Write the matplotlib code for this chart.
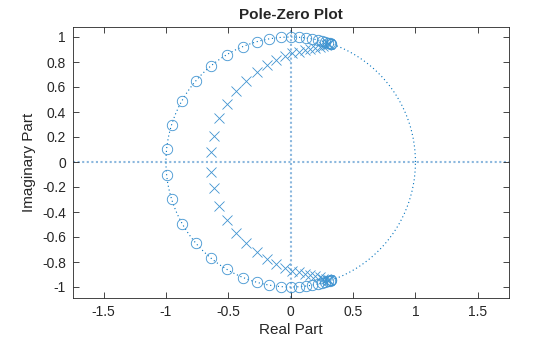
import numpy as np
import matplotlib
matplotlib.use("Agg")
from matplotlib import pyplot as plt

# Zeros (upper half plane)
zero_re = [-0.995, -0.955, -0.870, -0.762, -0.642, -0.513, -0.383, -0.273, -0.174,
           -0.080, 0.000, 0.064, 0.120, 0.174, 0.219, 0.254, 0.278, 0.300, 0.312, 0.320, 0.326]
zero_im = [0.105, 0.298, 0.492, 0.648, 0.766, 0.858, 0.924, 0.962, 0.985,
           0.997, 1.000, 0.998, 0.993, 0.985, 0.976, 0.967, 0.960, 0.954, 0.950, 0.947, 0.945]

# Poles (upper half plane)
pole_re = [-0.642, -0.615, -0.575, -0.511, -0.441, -0.355, -0.270, -0.190, -0.115,
           -0.046, 0.013, 0.067, 0.112, 0.158, 0.198, 0.233, 0.259, 0.280, 0.296, 0.306]
pole_im = [0.078, 0.210, 0.350, 0.466, 0.566, 0.650, 0.718, 0.776, 0.816,
           0.848, 0.870, 0.882, 0.894, 0.902, 0.912, 0.922, 0.932, 0.938, 0.942, 0.945]

# real filter -> conjugate pairs
zeros = np.array(zero_re) + 1j * np.array(zero_im)
zeros = np.concatenate([zeros, np.conj(zeros)])
poles = np.array(pole_re) + 1j * np.array(pole_im)
poles = np.concatenate([poles, np.conj(poles)])

blue = (0, 0.447, 0.741)
mark = (0.25, 0.58, 0.82)
light = (0.55, 0.72, 0.87)
txt = (0.15, 0.15, 0.15)

plt.rcParams["font.family"] = ["Liberation Sans", "DejaVu Sans"]

fig = plt.figure(figsize=(5.6, 3.37), dpi=100)
ax = fig.add_axes([73 / 560, 39 / 337, 436 / 560, 271 / 337])

# Axis lines and unit circle
ax.axhline(0, color=light, linestyle=(0, (1, 1.2)), linewidth=1.5, zorder=1)
ax.axvline(0, color=light, linestyle=(0, (1, 1.2)), linewidth=1.5, zorder=1)
t = np.linspace(0, 2 * np.pi, 400)
ax.plot(np.cos(t), np.sin(t), color=blue, linestyle=(0, (1, 2.5)), linewidth=0.8, zorder=2)

ax.plot(zeros.real, zeros.imag, "o", markersize=7.5, markerfacecolor="none",
        markeredgecolor=mark, markeredgewidth=0.6, zorder=3)
ax.plot(poles.real, poles.imag, "x", markersize=7.5, color=mark,
        markeredgewidth=0.6, zorder=3)

ax.set_xlim(-1.745, 1.75)
ax.set_ylim(-1.088, 1.08)
ax.set_xticks([-1.5, -1, -0.5, 0, 0.5, 1, 1.5])
ax.set_xticklabels(["-1.5", "-1", "-0.5", "0", "0.5", "1", "1.5"])
ax.set_yticks([-1, -0.8, -0.6, -0.4, -0.2, 0, 0.2, 0.4, 0.6, 0.8, 1])
ax.set_yticklabels(["-1", "-0.8", "-0.6", "-0.4", "-0.2", "0", "0.2", "0.4", "0.6", "0.8", "1"])
ax.tick_params(direction="in", top=True, right=True, length=4, width=0.6,
               labelsize=10, colors=txt, pad=5)
for s in ax.spines.values():
    s.set_linewidth(0.6)
    s.set_color(txt)

ax.set_title("Pole-Zero Plot", fontsize=11, fontweight="bold", color=txt, pad=6)
ax.set_xlabel("Real Part", fontsize=11, color=txt, labelpad=3)
ax.set_ylabel("Imaginary Part", fontsize=11, color=txt, labelpad=4)

fig.savefig("out.png", dpi=100)
